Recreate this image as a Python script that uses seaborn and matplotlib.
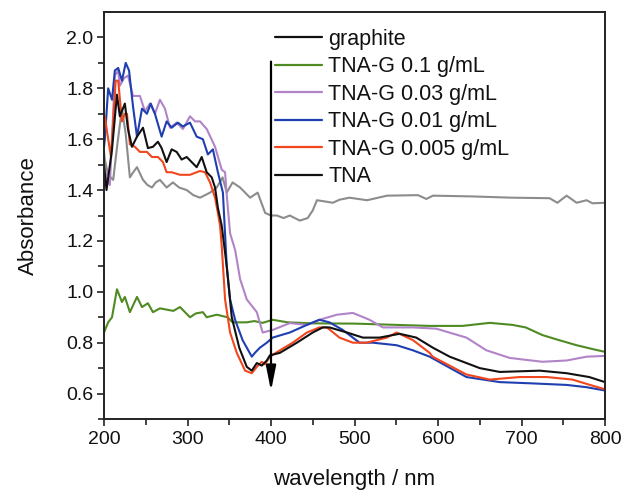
import matplotlib
matplotlib.use("Agg")
import matplotlib.pyplot as plt
import seaborn as sns
import pandas as pd

# UV-vis absorbance spectra (wavelength in nm, absorbance)
graphite_wl = [200, 201, 205, 211, 216, 221.5, 226, 231, 235, 239.5, 246.7, 252, 257.4, 262, 267, 275,
               282.5, 290, 299, 307, 315, 321, 327, 335, 342, 347, 354, 363, 375, 384, 393, 400,
               407, 415, 422.5, 434.5, 444, 450, 455, 465, 474, 482, 494, 515, 539, 576, 586, 594,
               641, 689, 733.6, 743, 754, 766, 778, 785, 800]
graphite_abs = [1.55, 1.52, 1.46, 1.44, 1.58, 1.72, 1.62, 1.45, 1.47, 1.49, 1.44, 1.42, 1.41, 1.43, 1.44, 1.41,
                1.43, 1.41, 1.40, 1.38, 1.37, 1.38, 1.39, 1.41, 1.45, 1.39, 1.43, 1.41, 1.37, 1.39, 1.31, 1.30,
                1.30, 1.29, 1.30, 1.28, 1.29, 1.32, 1.36, 1.355, 1.35, 1.362, 1.37, 1.36, 1.378, 1.38, 1.365, 1.378,
                1.375, 1.37, 1.368, 1.35, 1.378, 1.35, 1.36, 1.348, 1.35]

g01_wl = [200, 205, 209.6, 215.5, 221.5, 225, 231, 239.5, 245.5, 252.6, 258.6, 267, 275, 283, 291, 303,
          310, 318.4, 323, 335, 348, 354, 371, 380, 390, 402, 420, 450, 500, 550, 590, 629.5, 662, 689,
          705, 725, 745, 766, 785, 800]
g01_abs = [0.84, 0.88, 0.90, 1.01, 0.96, 0.98, 0.92, 0.98, 0.94, 0.955, 0.92, 0.935, 0.93, 0.925, 0.94, 0.90,
           0.915, 0.92, 0.90, 0.91, 0.90, 0.88, 0.88, 0.885, 0.878, 0.89, 0.88, 0.876, 0.875, 0.87, 0.866, 0.866, 0.878, 0.87,
           0.86, 0.83, 0.81, 0.79, 0.775, 0.764]

g003_wl = [200, 203.6, 207, 213, 217, 219, 224, 228.7, 234.7, 243, 249, 255, 261, 267, 273, 279,
           287, 294.5, 303, 309, 315, 323, 333, 341, 345, 347, 351, 357, 363, 371, 383, 390,
           402, 422.5, 443, 458, 479, 498, 518, 534, 570, 598, 634, 658, 686, 725, 754, 778, 800]
g003_abs = [1.50, 1.44, 1.42, 1.85, 1.87, 1.81, 1.84, 1.85, 1.77, 1.77, 1.71, 1.74, 1.70, 1.755, 1.72, 1.645,
            1.665, 1.64, 1.69, 1.67, 1.67, 1.64, 1.57, 1.48, 1.47, 1.38, 1.23, 1.165, 1.05, 0.97, 0.92, 0.84,
            0.85, 0.877, 0.87, 0.89, 0.91, 0.917, 0.89, 0.86, 0.86, 0.855, 0.82, 0.77, 0.74, 0.725, 0.73, 0.745, 0.748]

g001_wl = [200, 201, 205, 209.6, 213, 217, 221.5, 226, 230, 234.7, 239.5, 245.5, 251.4, 256, 261, 269,
           275, 281, 288.5, 294.5, 303, 311, 318.4, 324.4, 330.4, 336.4, 342.4, 347, 351, 357, 366, 377,
           380.7, 386.6, 395, 402, 422.5, 443, 458, 470, 486, 506, 522, 550.5, 570, 590, 634, 674, 713,
           754, 778, 800]
g001_abs = [1.57, 1.60, 1.80, 1.755, 1.87, 1.88, 1.83, 1.90, 1.87, 1.73, 1.61, 1.72, 1.70, 1.74, 1.70, 1.61,
            1.67, 1.645, 1.665, 1.65, 1.665, 1.61, 1.60, 1.54, 1.56, 1.47, 1.39, 1.10, 0.97, 0.89, 0.81, 0.745,
            0.76, 0.78, 0.80, 0.82, 0.84, 0.87, 0.89, 0.88, 0.85, 0.80, 0.80, 0.79, 0.77, 0.745, 0.665, 0.645, 0.64,
            0.634, 0.625, 0.612]

g0005_wl = [200, 201, 203.6, 208.4, 214, 217, 221.5, 225, 227.5, 231, 237, 243, 251.4, 257.4, 264.6, 270.6,
            275, 281, 291, 303, 315, 321, 327, 333, 336.4, 339, 341, 345, 351, 359, 369, 377,
            383, 389, 392.6, 398.6, 410.6, 426, 443, 458, 467, 482, 498, 514.6, 538.6, 550.5, 570, 590,
            593.6, 634, 662, 698, 730, 761, 781, 800]
g0005_abs = [1.65, 1.69, 1.63, 1.53, 1.83, 1.83, 1.67, 1.70, 1.70, 1.58, 1.57, 1.55, 1.55, 1.53, 1.53, 1.51,
             1.47, 1.47, 1.46, 1.46, 1.475, 1.47, 1.43, 1.37, 1.31, 1.26, 1.18, 0.97, 0.84, 0.76, 0.69, 0.68,
             0.705, 0.725, 0.715, 0.745, 0.77, 0.80, 0.84, 0.86, 0.86, 0.82, 0.80, 0.80, 0.82, 0.84, 0.81, 0.76,
             0.745, 0.675, 0.655, 0.665, 0.665, 0.655, 0.635, 0.617]

tna_wl = [200, 203, 209.6, 215.5, 219, 225, 228.7, 233.5, 239.5, 246.7, 252.6, 258.6, 264.6, 269, 275, 281,
          287, 293, 299, 305, 311, 317, 323, 329, 333, 336.4, 341, 347, 353, 362, 371, 377,
          383, 389, 395, 398.6, 410.6, 431, 450, 462, 470, 491, 510, 530, 554, 574, 594, 614,
          650, 674, 722, 754, 781, 800]
tna_abs = [1.50, 1.40, 1.56, 1.775, 1.69, 1.74, 1.64, 1.57, 1.61, 1.645, 1.565, 1.57, 1.59, 1.565, 1.51, 1.56,
           1.55, 1.52, 1.53, 1.51, 1.49, 1.53, 1.47, 1.45, 1.41, 1.33, 1.26, 1.10, 0.90, 0.78, 0.705, 0.69,
           0.72, 0.71, 0.73, 0.75, 0.76, 0.80, 0.84, 0.86, 0.86, 0.84, 0.82, 0.82, 0.835, 0.82, 0.78, 0.745,
           0.70, 0.685, 0.69, 0.68, 0.665, 0.645]

series_names = ["graphite", "TNA-G 0.1 g/mL", "TNA-G 0.03 g/mL", "TNA-G 0.01 g/mL",
                "TNA-G 0.005 g/mL", "TNA"]
series_data = [(graphite_wl, graphite_abs), (g01_wl, g01_abs), (g003_wl, g003_abs),
               (g001_wl, g001_abs), (g0005_wl, g0005_abs), (tna_wl, tna_abs)]
line_colors = ["#8c8c8c", "#4f8a23", "#b184c8", "#1f3fb0", "#f2461e", "#111111"]
legend_colors = ["#111111", "#4f8a23", "#b184c8", "#1f3fb0", "#f2461e", "#111111"]

x_ticks = [200, 300, 400, 500, 600, 700, 800]
y_ticks = [0.6, 0.8, 1.0, 1.2, 1.4, 1.6, 1.8, 2.0]

# arrow marking the trend with decreasing graphite content
arrow_wl = 400
arrow_from, arrow_to = 1.905, 0.61

sns.set_style("ticks")
plt.rcParams["font.family"] = ["Liberation Sans", "DejaVu Sans"]

fig = plt.figure(figsize=(6.22, 4.92), dpi=100)
ax = fig.add_axes([104 / 622, 1 - 419 / 492, 501 / 622, 407 / 492])

frames = []
for name, (wl, ab) in zip(series_names, series_data):
    frames.append(pd.DataFrame({"wavelength": wl, "absorbance": ab, "sample": name}))
df = pd.concat(frames, ignore_index=True)

sns.lineplot(data=df, x="wavelength", y="absorbance", hue="sample",
             hue_order=series_names, palette=line_colors, sort=False,
             estimator=None, linewidth=1.5, ax=ax)

ax.annotate("", xy=(arrow_wl, arrow_to), xytext=(arrow_wl, arrow_from),
            arrowprops=dict(arrowstyle="-|>,head_length=1.5,head_width=0.3",
                            color="black", lw=1.6, shrinkA=0, shrinkB=0))

ax.set_xlim(200, 800)
ax.set_ylim(0.5, 2.1)
ax.set_xticks(x_ticks)
ax.set_yticks(y_ticks)
ax.set_yticklabels([f"{v:.1f}" for v in y_ticks])
ax.set_xticks([250, 350, 450, 550, 650, 750], minor=True)
ax.set_yticks([0.5, 0.7, 0.9, 1.1, 1.3, 1.5, 1.7, 1.9], minor=True)
ax.tick_params(axis="both", which="major", direction="out", length=5, width=1.2,
               labelsize=14, colors="#222222", labelcolor="#111111")
ax.tick_params(axis="x", which="major", pad=4)
ax.tick_params(axis="y", which="major", pad=2.5)
ax.tick_params(axis="both", which="minor", direction="out", length=4, width=1.2,
               colors="#222222")
for sp in ax.spines.values():
    sp.set_visible(True)
    sp.set_linewidth(1.4)
    sp.set_color("#222222")

ax.set_xlabel("wavelength / nm", fontsize=16, labelpad=15, color="#111111")
ax.set_ylabel("Absorbance", fontsize=16, labelpad=20, color="#111111")

leg = ax.legend(loc="upper left", bbox_to_anchor=(0.324, 0.98), frameon=False,
                fontsize=15.5, handlelength=2.2, handletextpad=0.28,
                labelspacing=0.3, borderaxespad=0.0)
for h, c in zip(leg.legend_handles, legend_colors):
    h.set_color(c)
    h.set_linewidth(1.6)
for t in leg.get_texts():
    t.set_color("#111111")

fig.savefig("out.png", dpi=100, facecolor="white")
